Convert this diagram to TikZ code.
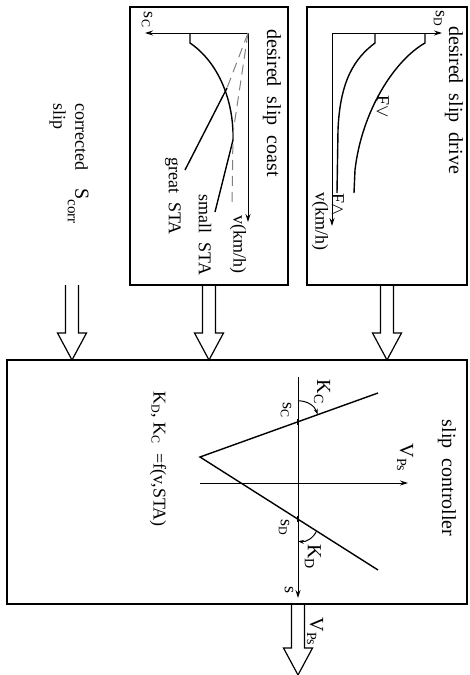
\documentclass[tikz,border=0pt]{standalone}
\usepackage{fontspec}
\setmainfont{Liberation Serif}
\usepackage{tikz}
\usetikzlibrary{calc, arrows.meta}

% hollow block arrow, drawn straight down from #1 to the tip #2
\newcommand{\fatarrow}[2]{%
  \draw[fat] let \p1=(#1), \p2=(#2) in
    (\x1-3.25pt,\y1) -- (\x1-3.25pt,\y2+13.5pt) -- (\x1-7.25pt,\y2+13.5pt)
    -- (\x1,\y2) -- (\x1+7.25pt,\y2+13.5pt) -- (\x1+3.25pt,\y2+13.5pt)
    -- (\x1+3.25pt,\y1);}

\begin{document}
\begin{tikzpicture}[x=0.5pt, y=-0.5pt, font=\fontsize{9}{10}\selectfont,
  box/.style={draw, line width=0.7pt, inner sep=0pt, outer sep=0pt},
  fat/.style={line width=0.6pt},
  curve/.style={line width=0.7pt},
  guide/.style={line width=0.5pt, gray, dash pattern=on 5pt off 3pt},
  lbl/.style={rotate=-90, inner sep=0pt},
  big/.style={font=\fontsize{10}{12}\selectfont},
  ax/.style={line width=0.5pt, -{Stealth[length=4pt, width=2.5pt]}},
  kangle/.style={line width=0.5pt, -{Stealth[length=3pt, width=2pt]}}]

\useasboundingbox (0,0) rectangle (470,675);

% the three blocks
\node[box, minimum width=79pt, minimum height=139pt] (coast) at (209,146) {};
\node[box, minimum width=80pt, minimum height=139pt] (drive) at (387,146) {};
\node[box, minimum width=230pt, minimum height=122pt] (ctrl) at (237,482) {};

\node[lbl, big] (tcoast) at (272,103) {desired~~slip~~coast};
\node[lbl, big] (tdrive) at (454,100) {desired~~slip~~drive};
\node[lbl, big] (tctrl) at (447,478) {slip~~controller};
\node[lbl, align=left, anchor=north west] (tcorr) at (89,103)
  {corrected\quad {\fontsize{10}{10}\selectfont S}\raisebox{-0.9ex}{\fontsize{7.5}{9}\selectfont corr}\\slip};

% block arrows
\coordinate (corr) at (72,285);
\coordinate (out) at (298,675);
\fatarrow{corr}{corr |- ctrl.north}
\fatarrow{coast.south}{coast.south |- ctrl.north}
\fatarrow{drive.south}{drive.south |- ctrl.north}
\fatarrow{ctrl.south -| out}{out}
\node[lbl, big] (tout) at (315,632) {V\textsubscript{Ps}};

% desired slip coast
\coordinate (oc) at (248,33);
\draw[ax] (oc) -- (145,33);
\draw[ax] (oc) -- (248,222);
\node[lbl] (lsc) at (147,20) {s\textsubscript{C}};
\node[lbl] (lvc) at (238,244) {v(km/h)};
\draw[curve] (190,33) -- (190,43) .. controls (218,62) and (234,100) .. (233,140) -- (215,212);
\draw[guide] (oc) -- (227,88);
\draw[curve] (227,88) -- (185,170);
\draw[guide] (oc) -- (233,133) -- (232,205);
\node[lbl] (lsmall) at (205,235) {small~~STA};
\node[lbl] (lgreat) at (173,196) {great~~STA};

% desired slip drive
\coordinate (od) at (332,33);
\draw[ax] (od) -- (442,33);
\draw[ax] (od) -- (332,226);
\node[lbl] (lsd) at (439,19) {s\textsubscript{D}};
\node[lbl] (lvd) at (320,221) {v(km/h)};
\draw[curve] (375,33) -- (375,43) .. controls (355,58) and (340,80) .. (338,130) -- (337,193);
\draw[curve] (425,33) -- (425,43) .. controls (395,60) and (362,110) .. (355,170) -- (354,193);
\node[lbl] (lfs) at (383,107) {F$\vee$};
\node[lbl] (lfg) at (338,205) {F$\wedge$};

% slip controller characteristic
\coordinate (s0) at (298,377);
\coordinate (s1) at (298,598);
\coordinate (v0) at (200,483);
\coordinate (v1) at (408,483);
\draw[ax] (s0) -- (s1);
\draw[ax] (v0) -- (v1);
\node[lbl] (ls) at (289,590) {s};
\node[lbl, big] (lvps) at (405,458) {V\textsubscript{Ps}};
\coordinate (apex) at (200,457);
\coordinate (kc) at (378,393);
\coordinate (kd) at (378,570);
\draw[curve] (kc) -- (apex) -- (kd);
\coordinate (sc) at (intersection of apex--kc and s0--s1);
\coordinate (sd) at (intersection of apex--kd and s0--s1);
\draw[line width=0.8pt] ($(sc)+(0,-3)$) -- ($(sc)+(0,3)$);
\draw[line width=0.8pt] ($(sd)+(0,-3)$) -- ($(sd)+(0,3)$);
\draw[kangle] ($(sc)!10.5pt!(s0)$) to[bend left=35] ($(sc)!10.5pt!(kc)$);
\draw[kangle] ($(sd)!11pt!(kd)$) to[bend left=35] ($(sd)!11pt!(s1)$);
\node[lbl] (lsc2) at (286,410) {s\textsubscript{C}};
\node[lbl] (lsd2) at (284,528) {s\textsubscript{D}};
\node[lbl, big] (lkc) at (322,392) {K\textsubscript{C}};
\node[lbl, big] (lkd) at (313,557) {K\textsubscript{D}};
\node[lbl] (lkf) at (158,459) {K\textsubscript{D}, K\textsubscript{C}~~=f(v,STA)};

\end{tikzpicture}
\end{document}
